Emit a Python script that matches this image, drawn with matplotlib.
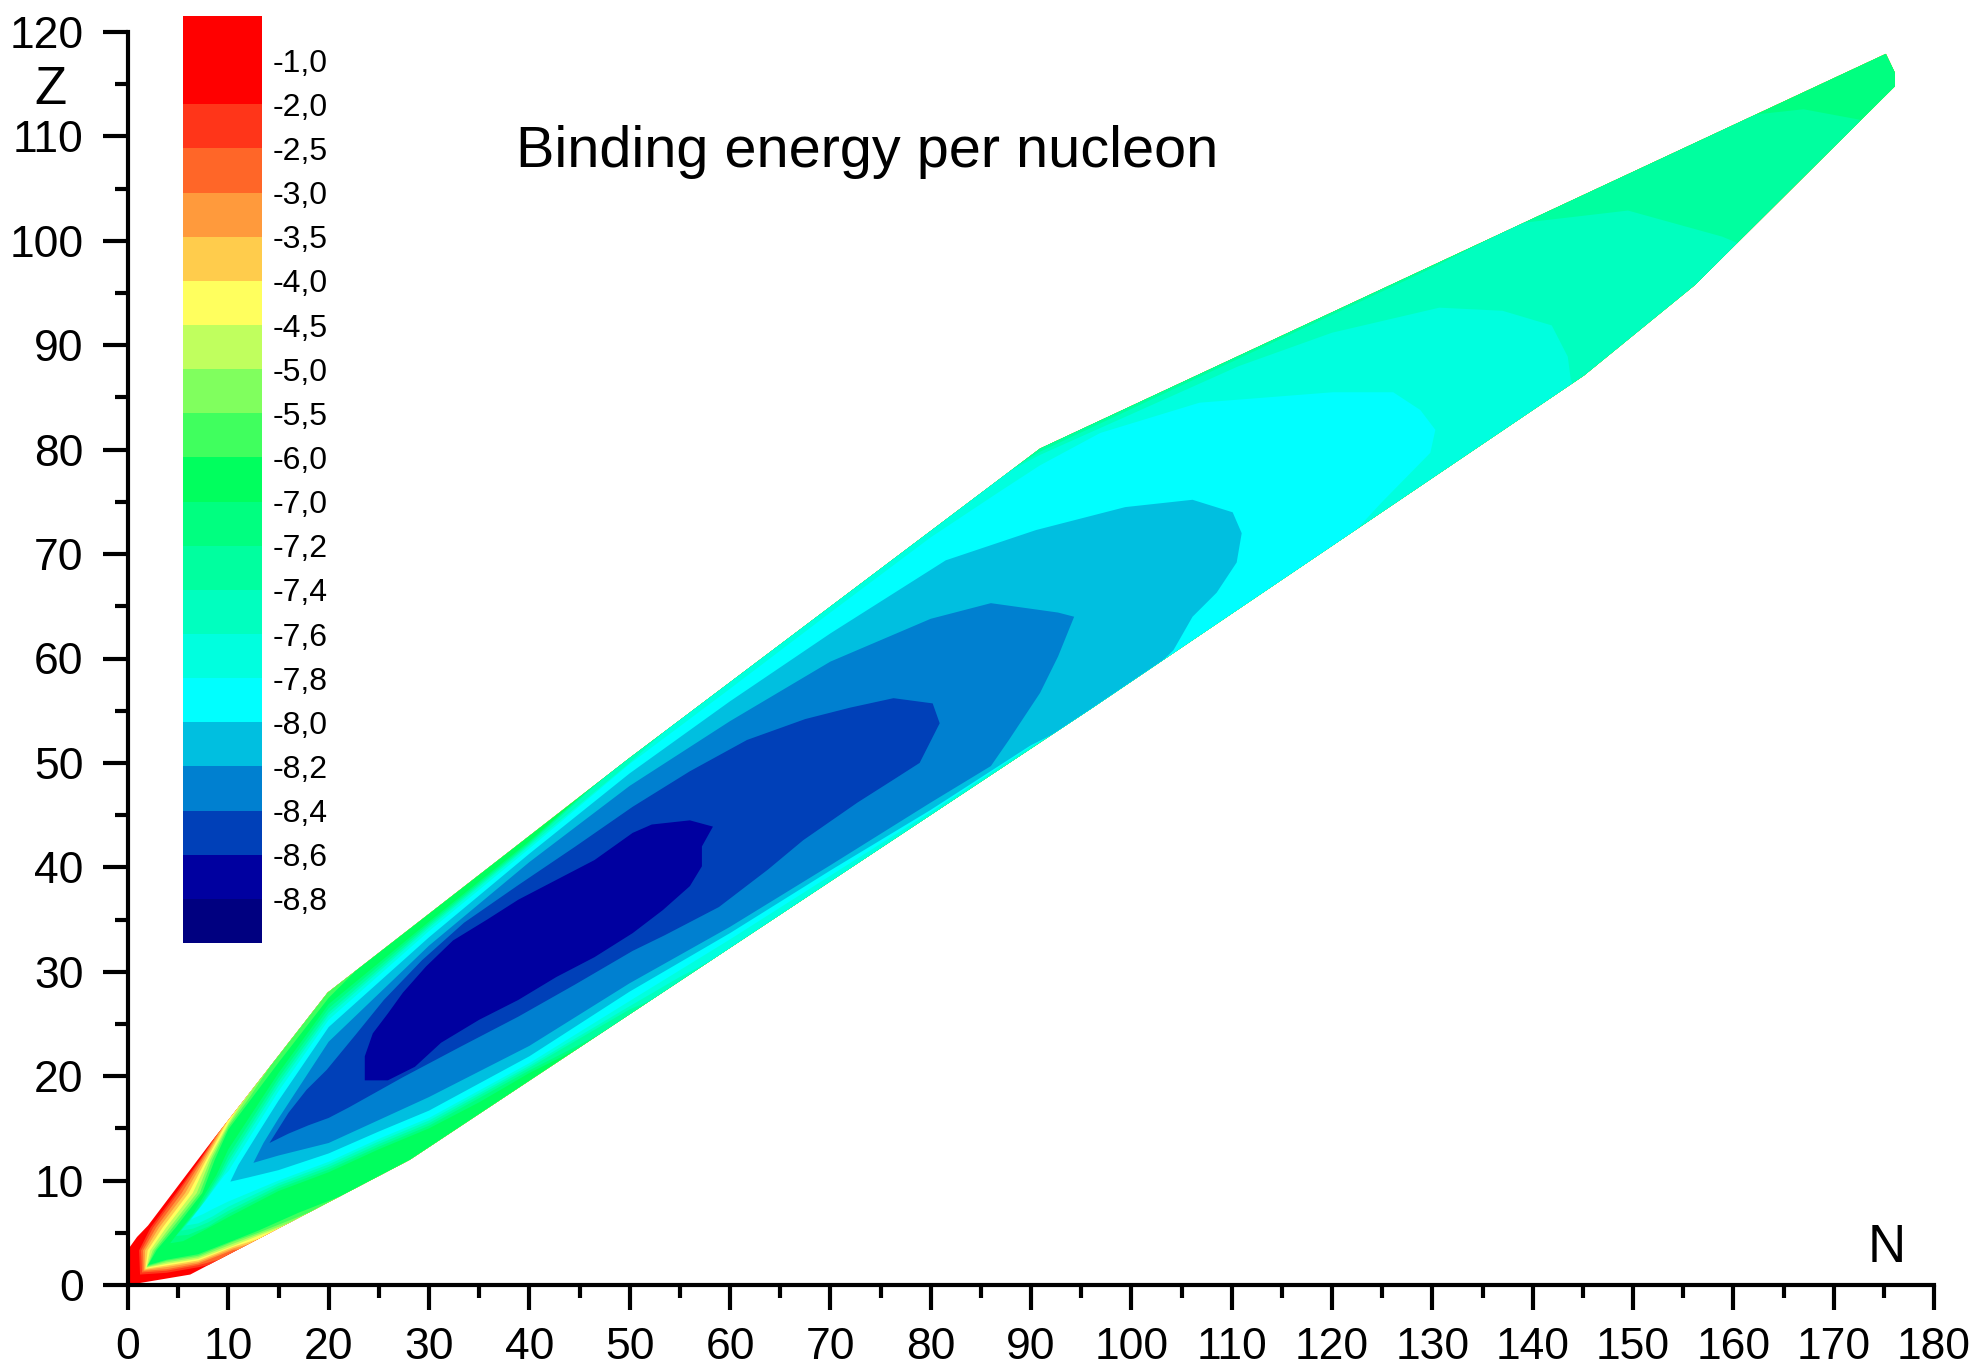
import matplotlib
matplotlib.use("Agg")
import matplotlib.pyplot as plt
from matplotlib.patches import Polygon
from matplotlib.ticker import MultipleLocator

plt.rcParams['font.family'] = ['Liberation Sans', 'DejaVu Sans']

# outline of the nuclide region (N, Z)
band_n = [0, 0, 0.9, 2.0, 7.9, 19.9, 49.9, 90.9, 175.2, 176.1, 176.1, 156.2, 145.1, 96.0, 28.1, 6.2]
band_z = [0, 3.4, 4.6, 5.7, 13.2, 28.0, 50.4, 80.1, 117.9, 116.1, 114.8, 95.8, 87.1, 55.2, 12.0, 1.0]

# colour scale (top to bottom) and the level labels between the boxes
scale_levels = [-1.0, -2.0, -2.5, -3.0, -3.5, -4.0, -4.5, -5.0, -5.5, -6.0,
                -7.0, -7.2, -7.4, -7.6, -7.8, -8.0, -8.2, -8.4, -8.6, -8.8]
scale_colors = ['#FF0000', '#FF0000', '#FF3519', '#FF6628', '#FF9A3C', '#FFCC4C',
                '#FFFF5E', '#C0FF5E', '#80FF5E', '#40FF5E', '#00FF5E', '#00FF80',
                '#00FF9F', '#00FFBF', '#00FFDF', '#00FFFF', '#00BFE0', '#0080D0',
                '#0040B8', '#0000A0', '#000080']

# light nuclei corner: boundary of "B/A below level" (lower edge -> tip -> upper edge)
notch_m20 = [(8, 1.9), (7, 1.7), (3.85, 1.17), (1.2, 1.0), (1.1, 3.3), (2.25, 5.5), (4.79, 8.8), (7.16, 12.0), (8.2, 13.5)]
notch_m25 = [(9, 2.41), (7, 1.9), (3.85, 1.37), (1.4, 1.2), (1.3, 3.3), (2.5, 5.5), (5.0, 8.8), (7.26, 12.0), (8.6, 14.0)]
notch_m30 = [(11, 3.41), (10.5, 3.36), (7, 2.05), (3.85, 1.52), (1.55, 1.35), (1.5, 3.3), (2.8, 5.5), (5.35, 8.8), (7.41, 12.0), (9.0, 14.5)]
notch_m35 = [(12, 3.91), (10.5, 3.51), (7, 2.2), (3.85, 1.72), (1.65, 1.45), (1.7, 3.3), (3.1, 5.5), (5.7, 8.8), (7.6, 12.0), (9.4, 15.0)]
notch_m40 = [(13, 4.41), (10.5, 3.66), (7, 2.35), (3.85, 1.87), (1.75, 1.55), (1.95, 3.3), (3.45, 5.5), (6.05, 8.8), (7.8, 12.0), (9.8, 15.5)]
notch_m45 = [(15, 5.42), (13, 4.71), (10.5, 3.76), (7, 2.5), (3.85, 2.02), (1.82, 1.65), (2.2, 3.3), (3.8, 5.5), (6.45, 8.8), (8.0, 12.0), (10, 15.5), (11, 17.0)]
notch_m50 = [(16, 5.92), (13, 4.86), (10.5, 3.96), (7, 2.65), (3.85, 2.17), (1.88, 1.72), (2.45, 3.3), (4.15, 5.5), (6.85, 8.8), (8.2, 12.0), (10, 15.35), (11.5, 17.5), (12.5, 18.9)]
notch_m55 = [(18, 6.92), (13, 5.01), (10.5, 4.16), (7, 2.8), (3.85, 2.32), (1.94, 1.8), (2.65, 3.3), (4.45, 5.5), (7.15, 8.8), (8.4, 12.0), (10, 15.15), (12, 17.8), (14, 20.7)]
notch_m60 = [(21, 8.43), (17, 6.92), (13, 5.21), (10.5, 4.26), (7, 2.95), (3.85, 2.42), (2.0, 1.9), (2.86, 3.35), (4.75, 5.5), (7.4, 8.8), (8.65, 12.0), (10, 14.9), (15, 21.3), (20, 27.5), (22.6, 30.0)]

# closed contour outlines for the deeper levels
region_m70 = [(4.2, 4.0), (5.5, 4.2), (7.5, 5.2), (10, 6.5), (15, 9.0), (20, 10.8), (25, 13.0), (30, 15.0), (35, 17.5),
              (40, 20.3), (45, 22.7), (48, 20), (100, 45), (190, 100), (190, 140), (100, 100), (60, 70), (45, 46.7),
              (40, 42.5), (30, 34.8), (20, 26.9), (15, 20.3), (10, 13.0), (8.8, 10.5), (6.6, 7.0)]
region_m72 = [(4.8, 4.7), (6, 4.8), (8, 5.6), (10, 6.8), (15, 9.25), (20, 11.05), (25, 13.25), (30, 15.25),
              (40, 20.55), (47, 24.0), (50, 22), (100, 50), (150, 75), (174, 108), (172.6, 111.6), (167, 112.6),
              (162.2, 112.1), (160, 114), (100, 95), (55, 58), (46, 47.5), (40, 42.35), (30, 34.6),
              (20, 26.5), (15, 19.85), (10, 12.4), (9.1, 10.6), (7.0, 7.3)]
region_m74 = [(5.3, 5.2), (6.5, 5.4), (8, 6.0), (10, 7.1), (15, 9.5), (20, 11.3), (25, 13.5), (30, 15.5), (40, 20.8),
              (50, 26.4), (52, 27.2), (54, 26), (100, 52), (150, 82), (162, 98), (160.4, 99.8), (158.9, 100.4),
              (149.5, 102.9), (138.8, 101.7), (130, 97.4), (120, 92.9), (110, 88.4), (100, 83.9), (90.9, 79.8),
              (86, 77.0), (80, 74), (60, 59.5), (47, 48.2), (40, 42.2), (30, 34.4), (20, 26.1), (15, 19.45),
              (10, 11.9), (9.3, 10.6), (7.3, 7.6)]
region_m76 = [(5.8, 5.7), (7, 5.9), (8.5, 6.6), (10, 7.5), (15, 9.75), (20, 11.55), (25, 13.75), (30, 15.75),
              (40, 21.0), (50, 26.7), (55, 29.5), (58, 31.0), (60, 30), (100, 53), (144.5, 85.5), (143.8, 86.7),
              (143.5, 88.9), (141.9, 91.9), (137, 93.3), (130.7, 93.6), (120, 91.2), (110.7, 88.0), (100, 83.4),
              (90.9, 79.5), (86, 77.0), (80, 74), (60, 59.5), (53, 52.6), (50, 50.0), (40, 42.05), (30, 34.2),
              (20, 25.8), (15, 19.05), (10, 11.5), (9.5, 10.6), (7.6, 7.9)]
region_m78 = [(6.3, 6.3), (7.5, 6.8), (8.5, 7.3), (10, 8.0), (15, 10.0), (20, 11.8), (25, 14.0), (30, 16.0),
              (40, 21.25), (50, 27.2), (60, 33.1), (70, 39.2), (80, 45.3), (90, 51.6), (95, 54.2), (100, 56.5),
              (121, 70.5), (121.9, 71.8), (125, 75), (129.8, 79.7), (130.3, 81.9), (128.8, 83.8), (126.1, 85.5),
              (120.1, 85.5), (106.8, 84.5), (96.9, 81.6), (90.9, 78.5), (86.9, 76.0), (80, 71.6), (70, 64.4),
              (60, 57.1), (50, 49.9), (40, 41.8), (30, 33.9), (20, 25.4), (15, 18.55), (10, 10.9), (9.6, 10.5),
              (7.9, 8.3)]
region_m80 = [(10.2, 9.9), (12, 10.3), (15, 11.0), (20, 12.6), (25, 14.7), (30, 16.7), (40, 21.9), (50, 28.1),
              (60, 33.7), (70, 39.7), (80, 45.5), (90, 51.7), (98.2, 55.6), (100.9, 57.7), (104.2, 60.8),
              (106.1, 64.0), (108.5, 66.3), (110.5, 69.2), (111.0, 72.0), (110.1, 74.0), (106.1, 75.2),
              (99.4, 74.5), (90.5, 72.3), (81.5, 69.4), (70, 62.4), (60, 55.9), (50, 49.0), (40, 41.3),
              (30, 33.3), (20, 24.7), (15, 17.65), (13, 14.6), (11, 11.5)]
region_m82 = [(12.5, 11.7), (15, 12.4), (20, 13.6), (25, 15.8), (30, 18.0), (40, 22.9), (50, 28.9), (60, 34.3),
              (70, 40.2), (80, 46.2), (86, 49.7), (87.8, 52.2), (90.9, 56.7), (92.7, 60.2), (94.3, 64.0),
              (92.7, 64.4), (86.0, 65.3), (80, 63.8), (70, 59.7), (60, 54.0), (50, 47.8), (40, 40.5),
              (30, 32.5), (20, 23.3), (15, 15.95), (13.5, 13.6)]
region_m84 = [(14.1, 13.6), (16.0, 16.5), (17.8, 18.7), (19.8, 20.6), (22.8, 24.1), (25.5, 27.3), (29.3, 31.1),
              (33.5, 34.7), (38.9, 38.3), (44.6, 42.0), (50.3, 45.8), (56.0, 49.2), (61.7, 52.2), (67.5, 54.2),
              (72.0, 55.3), (76.3, 56.2), (80.2, 55.7), (80.9, 53.8), (78.9, 50.0), (76.3, 48.4), (72.7, 46.2),
              (67.3, 42.6), (63.8, 39.8), (58.9, 36.2), (53.5, 33.5), (50.3, 32.0), (44.6, 28.8), (38.9, 25.7),
              (33.1, 22.8), (27.4, 19.9), (22, 17.0), (20, 16.0), (18, 15.3), (16, 14.5)]
region_m86 = [(23.6, 19.6), (23.6, 21.9), (24.4, 24.1), (25.9, 26.0), (27.4, 28.0), (29.7, 30.5), (32.4, 33.0),
              (35.8, 35.0), (38.9, 36.9), (42.7, 38.8), (46.5, 40.7), (50.3, 43.3), (52.2, 44.1), (56.0, 44.5),
              (58.3, 43.9), (57.2, 42.0), (57.2, 40.1), (56.0, 38.2), (53.3, 35.9), (50.3, 33.7), (46.5, 31.4),
              (42.7, 29.5), (38.9, 27.3), (35.0, 25.4), (31.2, 23.2), (28.6, 20.9), (25.9, 19.6)]

# area outside the nuclide band, used to close the corner notches
outside = [(-10, 40), (-10, 200), (250, 200), (250, -50), (20, -50)]

notches = [notch_m20, notch_m25, notch_m30, notch_m35, notch_m40, notch_m45, notch_m50, notch_m55, notch_m60]
closed = [region_m70, region_m72, region_m74, region_m76, region_m78, region_m80, region_m82, region_m84, region_m86]
regions = [n + outside for n in notches] + closed
region_colors = scale_colors[2:20]

fig = plt.figure(figsize=(19.84, 13.70), dpi=100)
ax = fig.add_axes([128 / 1984, 85 / 1370, 1806 / 1984, 1253 / 1370])

band = Polygon(list(zip(band_n, band_z)), closed=True, facecolor='#FF0000', edgecolor='none', zorder=1)
ax.add_patch(band)
for pts, col in zip(regions, region_colors):
    p = Polygon(pts, closed=True, facecolor=col, edgecolor='none', zorder=1)
    ax.add_patch(p)
    p.set_clip_path(band)

ax.set_xlim(0, 180)
ax.set_ylim(0, 120)
ax.spines['top'].set_visible(False)
ax.spines['right'].set_visible(False)
for s in ['left', 'bottom']:
    ax.spines[s].set_linewidth(3)
ax.xaxis.set_major_locator(MultipleLocator(10))
ax.xaxis.set_minor_locator(MultipleLocator(5))
ax.yaxis.set_major_locator(MultipleLocator(10))
ax.yaxis.set_minor_locator(MultipleLocator(5))
ax.tick_params(which='major', length=18, width=3, labelsize=32, direction='out')
ax.tick_params(which='minor', length=9.5, width=3, direction='out')
ax.tick_params(axis='x', pad=12)
ax.tick_params(axis='y', pad=14)

ax.text(38.7, 107.1, "Binding energy per nucleon", fontsize=41.5, va='baseline', ha='left')
ax.text(-9.3, 113.1, "Z", fontsize=38, va='baseline', ha='left', clip_on=False)
ax.text(173.4, 2.25, "N", fontsize=38, va='baseline', ha='left')

# colour scale box
cax = fig.add_axes([183 / 1984, 427 / 1370, 79 / 1984, 927 / 1370])
n_box = len(scale_colors)
for i, c in enumerate(scale_colors):
    cax.bar(0.5, 1, bottom=n_box - 1 - i, width=1, color=c, edgecolor='none')
cax.set_xlim(0, 1)
cax.set_ylim(0, n_box)
cax.axis('off')
for j, v in enumerate(scale_levels):
    lab = f"{v:.1f}".replace('.', ',')
    cax.text(1.14, n_box - 1 - j - 0.08, lab, fontsize=23, va='center', ha='left')

fig.savefig("out.png", dpi=100)
